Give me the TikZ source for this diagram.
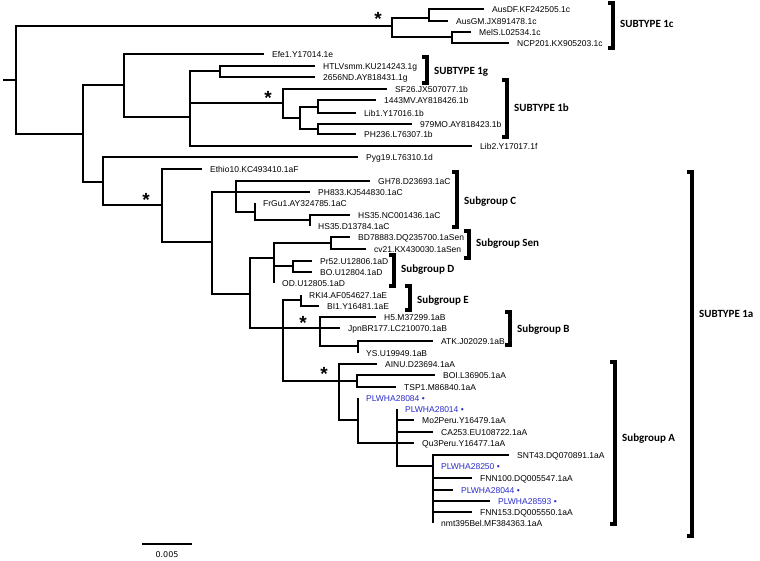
\documentclass[tikz,border=0pt]{standalone}
\usepackage{fontspec}
\setmainfont{Liberation Sans}
\newfontfamily\brfont{Carlito}
\newfontfamily\barfont{DejaVu Sans}
\definecolor{plwblue}{RGB}{45,45,205}
\tikzset{
  edge/.style={line width=1.3pt, line join=miter},
  leaflab/.style={anchor=west, inner sep=0pt, xshift=8pt, font=\fontsize{8.5}{10}\selectfont, text height=6.1pt, text depth=0pt},
  bluelab/.style={leaflab, text=plwblue},
  brk/.style={line width=3.6pt, line join=miter},
  brlab/.style={anchor=west, inner sep=0pt, font=\brfont\bfseries\fontsize{11}{13}\selectfont, text height=7pt, text depth=0pt},
  starmark/.style={font=\bfseries\fontsize{19}{19}\selectfont, inner sep=0pt, anchor=base}
}
\newcommand\leaf[5]{%
  \coordinate (#2) at (#3,#4);
  \draw[edge] (#1) |- (#2);
  \node[leaflab] (#2-l) at (#2) {#5};}
\newcommand\bleaf[5]{%
  \coordinate (#2) at (#3,#4);
  \draw[edge] (#1) |- (#2);
  \node[bluelab] (#2-l) at (#2) {#5 •};}
\newcommand\inode[4]{%
  \coordinate (#2) at (#3,#4);
  \draw[edge] (#1) |- (#2);}
\newcommand\brkt[6]{%
  \draw[brk] (#2-5,#3) -- (#2,#3) -- (#2,#4) -- (#2-5,#4);
  \node[brlab] (#1) at (#2+7,#5) {#6};}
\newcommand\starat[3]{\node[starmark] (#1) at (#2,#3+10.5) {*};}
\begin{document}
\begin{tikzpicture}[x=1pt,y=-1pt]
\useasboundingbox (0,0) rectangle (760,561);
\fill[white] (0,0) rectangle (760,561);
% root
\coordinate (r0) at (3,80);
\coordinate (r) at (16,80);
\draw[edge] (r0) -- (r);
% subtype 1c
\inode{r}{c1}{392}{26}
\inode{c1}{c1a}{429}{18}
\leaf{c1a}{ausdf}{484}{9}{AusDF.KF242505.1c}
\leaf{c1a}{ausgm}{448}{21}{AusGM.JX891478.1c}
\inode{c1}{c1b}{452}{37}
\leaf{c1b}{mels}{471}{32}{MelS.L02534.1c}
\leaf{c1b}{ncp}{509}{43}{NCP201.KX905203.1c}
\starat{s1}{378}{15}
% second part
\inode{r}{n2}{83}{134}
\inode{n2}{n3}{124}{85}
\leaf{n3}{efe}{264}{54}{Efe1.Y17014.1e}
\inode{n3}{n4}{190}{117}
\inode{n4}{g1}{220}{71}
\leaf{g1}{htlv}{315}{66}{HTLVsmm.KU214243.1g}
\leaf{g1}{nd}{315}{77}{2656ND.AY818431.1g}
\inode{n4}{b1}{283}{103}
\starat{s2}{268}{94}
\leaf{b1}{sf}{387}{89}{SF26.JX507077.1b}
\inode{b1}{b2}{300}{118}
\inode{b2}{b3}{318}{107}
\leaf{b3}{mv}{376}{100}{1443MV.AY818426.1b}
\leaf{b3}{lib1}{356}{113}{Lib1.Y17016.1b}
\inode{b2}{b4}{318}{129}
\leaf{b4}{mo}{412}{124}{979MO.AY818423.1b}
\leaf{b4}{ph}{356}{134}{PH236.L76307.1b}
\leaf{n4}{lib2}{472}{146}{Lib2.Y17017.1f}
% 1a part
\inode{n2}{n5}{103}{182}
\leaf{n5}{pyg}{358}{157}{Pyg19.L76310.1d}
\inode{n5}{a1}{162}{205}
\starat{s3}{146}{196}
\leaf{a1}{ethio}{202}{169}{Ethio10.KC493410.1aF}
\inode{a1}{a2}{212}{242}
\inode{a2}{cc}{236}{192}
\leaf{cc}{gh}{370}{181}{GH78.D23693.1aC}
\leaf{cc}{pho}{310}{192}{PH833.KJ544830.1aC}
\inode{cc}{fr}{255}{212}
\leaf{fr}{frgu}{255}{203}{FrGu1.AY324785.1aC}
\inode{fr}{hs}{310}{220}
\leaf{hs}{hsnc}{350}{215}{HS35.NC001436.1aC}
\leaf{hs}{hsd}{310}{226}{HS35.D13784.1aC}
\inode{a2}{a3}{250}{294}
\inode{a3}{a4}{274}{258}
\inode{a4}{sen}{331}{243}
\leaf{sen}{bd}{350}{237}{BD78883.DQ235700.1aSen}
\leaf{sen}{cv}{366}{249}{cv21.KX430030.1aSen}
\inode{a4}{dd}{293}{266}
\leaf{dd}{pr}{312}{261}{Pr52.U12806.1aD}
\leaf{dd}{bo}{312}{272}{BO.U12804.1aD}
\leaf{a4}{od}{274}{283}{OD.U12805.1aD}
\inode{a3}{a5}{283}{328}
\inode{a5}{ee}{301}{300}
\leaf{ee}{rki}{301}{295}{RKI4.AF054627.1aE}
\leaf{ee}{bi}{319}{306}{BI1.Y16481.1aE}
\inode{a5}{bb}{320}{328}
\starat{s4}{303}{319}
\leaf{bb}{hf}{376}{317}{H5.M37299.1aB}
\leaf{bb}{jpn}{340}{328}{JpnBR177.LC210070.1aB}
\inode{bb}{yb}{358}{346}
\leaf{yb}{atk}{433}{341}{ATK.J02029.1aB}
\leaf{yb}{ys}{358}{353}{YS.U19949.1aB}
\inode{a5}{aa}{339}{381}
\starat{s5}{324}{370}
\leaf{aa}{ainu}{377}{364}{AINU.D23694.1aA}
\inode{aa}{bt}{357}{381}
\leaf{bt}{boi}{435}{375}{BOI.L36905.1aA}
\leaf{bt}{tsp}{396}{387}{TSP1.M86840.1aA}
\inode{aa}{p1}{358}{420}
\bleaf{p1}{pa}{358}{398}{PLWHA28084}
\inode{p1}{p2}{397}{443}
\bleaf{p2}{pb}{397}{409}{PLWHA28014}
\leaf{p2}{mo2}{414}{420}{Mo2Peru.Y16479.1aA}
\leaf{p2}{ca}{433}{432}{CA253.EU108722.1aA}
\leaf{p2}{qu}{414}{443}{Qu3Peru.Y16477.1aA}
\inode{p2}{p3}{433}{466}
\leaf{p3}{snt}{509}{455}{SNT43.DQ070891.1aA}
\bleaf{p3}{pc}{433}{466}{PLWHA28250}
\leaf{p3}{fnna}{472}{478}{FNN100.DQ005547.1aA}
\bleaf{p3}{pd}{453}{490}{PLWHA28044}
\bleaf{p3}{pe}{490}{501}{PLWHA28593}
\leaf{p3}{fnnb}{472}{512}{FNN153.DQ005550.1aA}
\leaf{p3}{nmt}{433}{523}{nmt395Bel.MF384363.1aA}
% brackets
\brkt{t1c}{613}{3}{48}{24}{SUBTYPE 1c}
\brkt{t1g}{427}{57}{83}{71}{SUBTYPE 1g}
\brkt{t1b}{507}{80}{137}{108}{SUBTYPE 1b}
\brkt{gc}{457}{172}{227}{201}{Subgroup C}
\brkt{gsen}{469}{231}{258}{243}{Subgroup Sen}
\brkt{gd}{394}{255}{286}{269}{Subgroup D}
\brkt{ge}{410}{286}{310}{300}{Subgroup E}
\brkt{gb}{510}{312}{345}{329}{Subgroup B}
\brkt{ga}{615}{362}{524}{438}{Subgroup A}
\brkt{t1a}{692}{172}{536}{314}{SUBTYPE 1a}
% scale bar
\coordinate (sb1) at (142,544);
\coordinate (sb2) at (192,544);
\draw[edge] (sb1) -- (sb2);
\node[font=\barfont\fontsize{8}{9}\selectfont, inner sep=0pt] (sbl) at (167,555) {0.005};
\end{tikzpicture}
\end{document}
